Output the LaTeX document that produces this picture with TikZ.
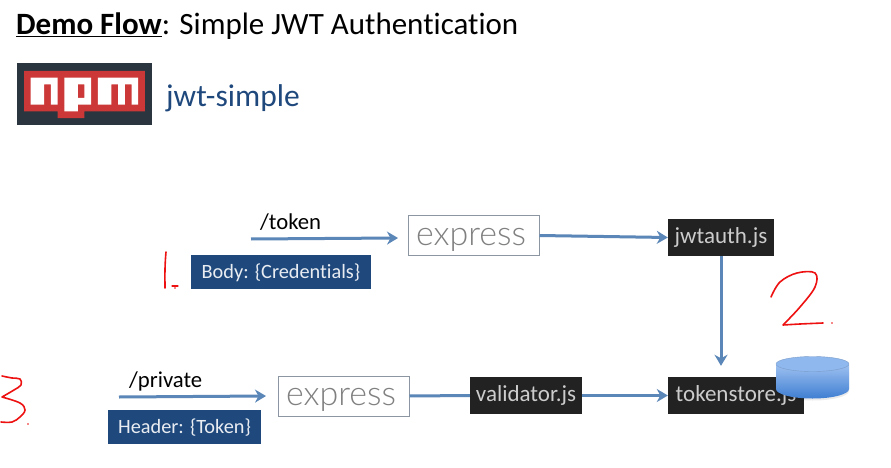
\documentclass[tikz,border=0pt]{standalone}
\usepackage{fontspec}
\setmainfont[Ligatures=NoCommon]{Carlito}
\newfontfamily\expressfont{Lato Light}
\usetikzlibrary{arrows.meta}
\definecolor{flowblue}{HTML}{5B86B8}
\definecolor{navybox}{HTML}{1F497D}
\definecolor{darkbox}{HTML}{222222}
\definecolor{npmred}{HTML}{CB3837}
\definecolor{npmdark}{HTML}{2B3540}
\definecolor{inkred}{HTML}{EE1111}
\definecolor{cyltop}{HTML}{8FB8EE}
\definecolor{cylupper}{HTML}{9CC0F0}
\definecolor{cyllower}{HTML}{3F7ED2}
\definecolor{expressedge}{HTML}{8C96A3}
\newcommand{\expresstext}{\smash{\raisebox{-9.5pt}{\kern-5pt express}}}
\tikzset{
  flow/.style={draw=flowblue,line width=3pt,-{Stealth[length=11pt,width=13pt,inset=3.5pt]}},
  navytag/.style={fill=navybox,text=white!90!navybox,font=\fontsize{20.3}{22}\selectfont,inner sep=0pt,minimum height=34pt,text height=15pt,text depth=2.5pt},
  darktag/.style={fill=darkbox,text=white!80!black,font=\fontsize{23}{25}\selectfont,inner sep=0pt,minimum height=37pt},
  expressbox/.style={draw=expressedge,line width=1pt,fill=white,text=black!50,font=\expressfont\fontsize{34}{36}\selectfont,inner sep=0pt,minimum width=131pt,minimum height=40pt},
  routelabel/.style={text=black,font=\fontsize{22.7}{25}\selectfont,inner sep=0pt,anchor=base west},
  ink/.style={draw=inkred,line width=1.6pt,line cap=round,line join=round},
}
\begin{document}
\begin{tikzpicture}[x=1pt,y=-1pt]
\useasboundingbox (0,0) rectangle (891,468);
\fill[white] (0,0) rectangle (891,468);
% title
\node[anchor=base west,inner sep=0pt,font=\fontsize{31}{34}\selectfont] (title) at (16,35) {\underline{\textbf{Demo Flow}}: Simple JWT Authentication};
% npm logo
\fill[npmdark] (17,63) rectangle (152,125);
\begin{scope}[shift={(24,71)},x=6.72pt,y=-6.72pt]
\fill[npmred] (0,0) -- (18,0) -- (18,6) -- (9,6) -- (9,7) -- (5,7) -- (5,6) -- (0,6) -- cycle;
\fill[white] (1,1) -- (5,1) -- (5,5) -- (4,5) -- (4,2) -- (3,2) -- (3,5) -- (1,5) -- cycle;
\fill[white,even odd rule] (6,1) -- (10,1) -- (10,5) -- (8,5) -- (8,6) -- (6,6) -- cycle (8,2) -- (9,2) -- (9,4) -- (8,4) -- cycle;
\fill[white] (11,1) -- (17,1) -- (17,5) -- (16,5) -- (16,2) -- (15,2) -- (15,5) -- (14,5) -- (14,2) -- (13,2) -- (13,5) -- (11,5) -- cycle;
\end{scope}
\node[anchor=base west,inner sep=0pt,text=navybox,font=\fontsize{31.5}{34}\selectfont] (pkg) at (166,106.5) {jwt-simple};
% row 1
\coordinate (t1) at (251,239);
\coordinate (t2) at (398,238);
\node[routelabel] (tokenlbl) at (260,229) {/token};
\node[navytag,minimum width=180pt] (body) at (281,272) {Body: \{Credentials\}};
\node[expressbox] (ex1) at (473.5,235.5) {\expresstext};
\node[darktag,minimum width=106pt] (jwt) at (721,237.5) {jwtauth.js};
% row 2
\coordinate (p1) at (119,397);
\coordinate (p2) at (266,396);
\node[routelabel] (privatelbl) at (129,387) {/private};
\node[navytag,minimum width=153pt] (header) at (184.5,427) {Header: \{Token\}};
\node[expressbox] (ex2) at (343.5,396) {\expresstext};
\node[darktag,minimum width=112pt] (val) at (526,395.5) {validator.js};
\node[darktag,minimum width=136pt] (store) at (736,395.5) {tokenstore.js};
% connectors
\draw[flow] (t1) -- (t2);
\draw[flow] (ex1.east) -- (jwt.west);
\draw[flow,shorten >=11pt] (jwt.south) -- (jwt.south |- store.north);
\draw[flow] (p1) -- (p2);
\draw[flow,-] (ex2.east) -- (val.west);
\draw[flow] (val.east) -- (store.west);
% database cylinder
\fill[black,opacity=0.08] (776,372) -- (776,391) arc[start angle=180,end angle=360,x radius=36.5,y radius=-9.5] -- (849,372) -- cycle;
\shade[top color=cylupper,bottom color=cyllower]
  (776,365) -- (776,389) arc[start angle=180,end angle=360,x radius=36.5,y radius=-9.5] -- (849,365) -- cycle;
\fill[cyltop,draw=cyltop!85!black,line width=0.4pt] (812.5,364) ellipse[x radius=36.5,y radius=7.5];
% handwriting
\draw[ink] plot[smooth,tension=0.6] coordinates {(771,297) (780,282) (797,273) (815,273) (815,287) (800,307) (783,325)} -- plot[smooth,tension=0.4] coordinates {(783,325) (800,324) (823,323)};
\fill[inkred] (832,323) circle[radius=0.8];
\draw[ink] (166,252) .. controls (164.5,268) and (165,280) .. (165,288);
\draw[ink,line width=1.2pt] (172,286) -- (178,286);
\fill[inkred] (175,288) circle[radius=0.8];
\draw[ink] plot[smooth,tension=0.6] coordinates {(2,376) (12,378) (20,379) (21,385) (14,390) (2,397)} -- plot[smooth,tension=0.6] coordinates {(2,397) (20,403) (25,410) (20,417) (12,422) (1,422)};
\fill[inkred] (28,424) circle[radius=0.8];
\end{tikzpicture}
\end{document}
